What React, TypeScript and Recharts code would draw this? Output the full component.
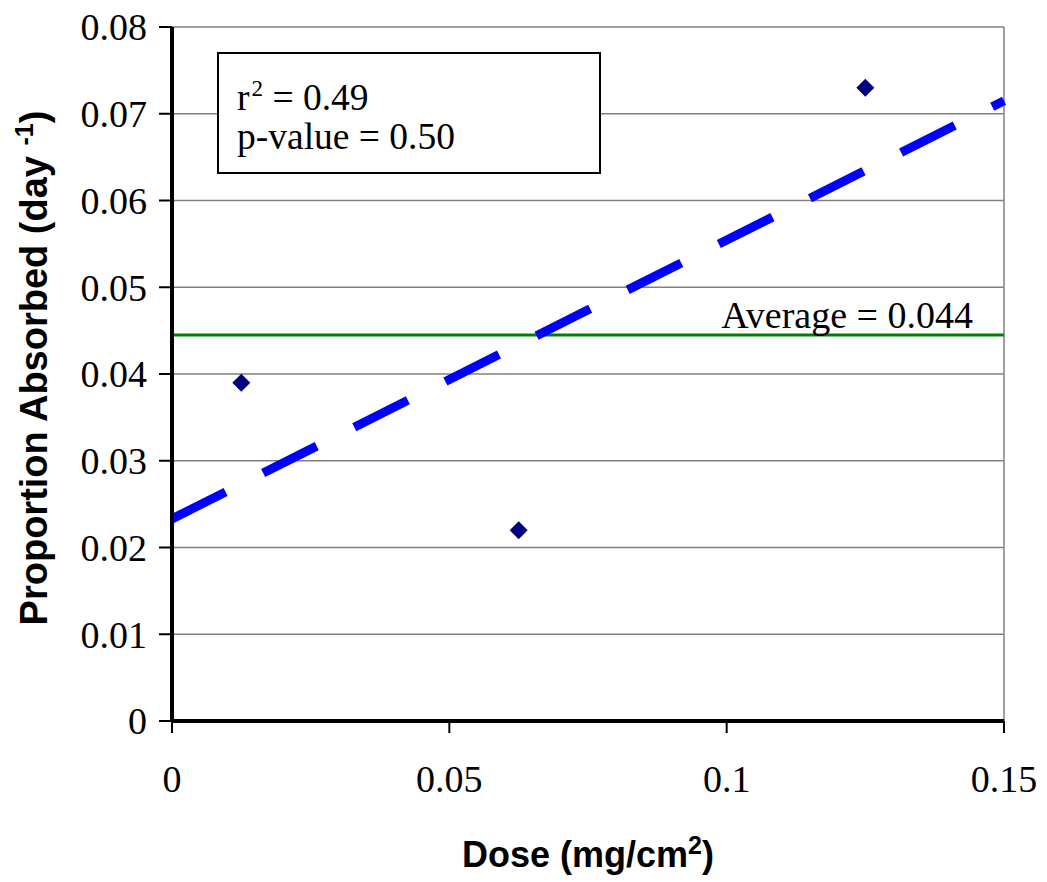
import React from 'react';
import { ScatterChart, Scatter, XAxis, YAxis, CartesianGrid, ReferenceLine } from 'recharts';

const doses = [0.0125, 0.0625, 0.125];
const absorbed = [0.039, 0.022, 0.073];
const xTicks = [0, 0.05, 0.1, 0.15];
const yTicks = [0, 0.01, 0.02, 0.03, 0.04, 0.05, 0.06, 0.07, 0.08];
const average = 0.0445;
const trendStart = { x: 0, y: 0.0233 };
const trendEnd = { x: 0.15, y: 0.0715 };

const points = doses.map((d, i) => ({ x: d, y: absorbed[i] }));

const SERIF = '"Liberation Serif", "Times New Roman", serif';
const SANS = '"Liberation Sans", Arial, sans-serif';

const Diamond = (props: any) => {
  const { cx, cy } = props;
  const r = 9;
  return <polygon points={`${cx},${cy - r} ${cx + r},${cy} ${cx},${cy + r} ${cx - r},${cy}`} fill="#000080" />;
};

export default function App() {
  return (
    <div style={{ position: 'absolute', left: 0, top: 0, width: 1047, height: 882, background: '#fff' }}>
      <ScatterChart width={1047} height={882} margin={{ top: 27, right: 43, bottom: 0, left: 0 }}>
        <CartesianGrid vertical={false} stroke="#808080" strokeWidth={1.5} />
        <XAxis
          type="number"
          dataKey="x"
          domain={[0, 0.15]}
          ticks={xTicks}
          height={161}
          axisLine={{ stroke: '#000', strokeWidth: 4 }}
          tickLine={{ stroke: '#000', strokeWidth: 2 }}
          tickSize={12}
          tickMargin={32}
          tick={{ fill: '#000', fontSize: 38, fontFamily: SERIF }}
          label={{
            content: () => (
              <text x={588} y={867} textAnchor="middle" fontFamily={SANS} fontWeight="bold" fontSize={36} fill="#000">
                Dose (mg/cm<tspan dy={-13} fontSize={25}>2</tspan><tspan dy={13}>)</tspan>
              </text>
            ),
          }}
        />
        <YAxis
          type="number"
          dataKey="y"
          domain={[0, 0.08]}
          ticks={yTicks}
          width={172}
          axisLine={{ stroke: '#000', strokeWidth: 4 }}
          tickLine={{ stroke: '#000', strokeWidth: 2 }}
          tickSize={13}
          tickMargin={12}
          tick={{ fill: '#000', fontSize: 38, fontFamily: SERIF }}
          label={{
            content: () => (
              <text
                x={47}
                y={368}
                transform="rotate(-90 47 368)"
                textAnchor="middle"
                fontFamily={SANS}
                fontWeight="bold"
                fontSize={38}
                fill="#000"
              >
                Proportion Absorbed (day <tspan dy={-14} fontSize={25}>-1</tspan><tspan dy={14}>)</tspan>
              </text>
            ),
          }}
        />
        <ReferenceLine x={0.15} stroke="#808080" strokeWidth={1.5} />
        <ReferenceLine
          y={average}
          stroke="#008000"
          strokeWidth={3}
          label={{
            content: (p: any) => (
              <text
                x={p.viewBox.x + p.viewBox.width - 31}
                y={p.viewBox.y - 7}
                textAnchor="end"
                fontFamily={SERIF}
                fontSize={38}
                fill="#000"
              >
                Average = 0.044
              </text>
            ),
          }}
        />
        <ReferenceLine
          segment={[trendStart, trendEnd]}
          stroke="#0000ff"
          strokeWidth={9}
          strokeDasharray="60 42"
          ifOverflow="extendDomain"
        />
        <Scatter data={points} shape={Diamond} isAnimationActive={false} />
      </ScatterChart>
      <div
        style={{
          position: 'absolute',
          left: 217,
          top: 52,
          width: 380,
          height: 118,
          border: '2px solid #000',
          background: '#fff',
          fontFamily: SERIF,
          fontSize: 37.5,
          lineHeight: '39px',
          color: '#000',
          boxSizing: 'content-box',
        }}
      >
        <div style={{ position: 'absolute', left: 18, top: 24 }}>
          r<span style={{ fontSize: 23, position: 'relative', top: -14, marginLeft: 2 }}>2</span> = 0.49
        </div>
        <div style={{ position: 'absolute', left: 18, top: 63 }}>p-value = 0.50</div>
      </div>
    </div>
  );
}
